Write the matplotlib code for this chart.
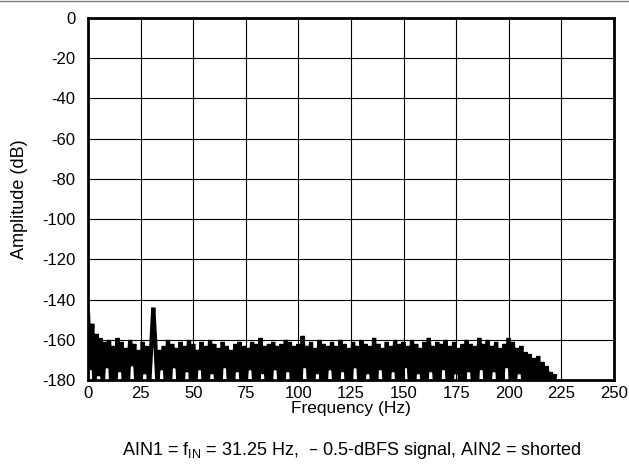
import matplotlib
matplotlib.use('Agg')
import matplotlib.pyplot as plt
import numpy as np

plt.rcParams['font.family'] = ['Liberation Sans', 'DejaVu Sans']
plt.rcParams['axes.unicode_minus'] = False

# spectrum: local peaks (even Hz) and dips (odd Hz)
peak_db = [
    -147, -152, -157, -159, -161, -160, -163, -159, -161, -164,
    -160, -162, -165, -161, -163, -164, -162, -165, -163, -160,
    -162, -164, -161, -163, -160, -162, -165, -161, -163, -160,
    -162, -164, -161, -163, -165, -162, -161, -163, -164, -161,
    -162, -159, -163, -162, -161, -163, -162, -160, -161, -163,
    -162, -158, -163, -161, -164, -160, -162, -163, -161, -163,
    -160, -162, -164, -161, -163, -160, -162, -163, -159, -162,
    -164, -161, -163, -160, -162, -161, -163, -160, -162, -164,
    -161, -159, -163, -161, -162, -160, -163, -161, -164, -162,
    -160, -162, -163, -159, -162, -160, -163, -161, -164, -162,
    -159, -161, -164, -163, -166, -167, -169, -168, -171, -173,
    -176, -178,
]
dip_db = [
    -175, -182, -178, -183, -174, -182, -184, -176, -182, -181,
    -173, -183, -182, -177, -184, -144, -182, -175, -183, -181,
    -174, -182, -183, -176, -184, -182, -175, -183, -181, -177,
    -184, -182, -174, -183, -181, -176, -184, -182, -175, -183,
    -182, -177, -184, -181, -175, -183, -182, -176, -184, -181,
    -183, -174, -182, -184, -177, -181, -183, -175, -182, -184,
    -176, -183, -181, -174, -182, -184, -177, -183, -181, -175,
    -182, -184, -176, -183, -181, -174, -182, -184, -177, -183,
    -181, -176, -184, -182, -175, -183, -181, -177, -184, -182,
    -176, -183, -181, -175, -184, -182, -176, -183, -181, -174,
    -183, -182, -177, -184, -181, -183, -180, -184, -182, -183,
    -184,
]

x_ticks = [0, 25, 50, 75, 100, 125, 150, 175, 200, 225, 250]
y_ticks = [0, -20, -40, -60, -80, -100, -120, -140, -160, -180]

amp = []
for i, p in enumerate(peak_db):
    amp.append(p)
    if i < len(dip_db):
        amp.append(dip_db[i])
freq = np.arange(len(amp))

fig = plt.figure(figsize=(6.29, 4.74), dpi=100)
ax = fig.add_axes([0.140, 0.198, 0.836, 0.764])

ax.plot(freq, amp, color='black', lw=3.0, solid_joinstyle='miter')

ax.set_xlim(0, 250)
ax.set_ylim(-180, 0)
ax.set_xticks(x_ticks)
ax.set_yticks(y_ticks)
ax.grid(True, color='black', lw=0.8)
ax.tick_params(length=0, labelsize=12)
ax.tick_params(axis='y', pad=9)
ax.tick_params(axis='x', pad=4)
for s in ax.spines.values():
    s.set_linewidth(2)

ax.set_xlabel('Frequency (Hz)', fontsize=12.5, labelpad=0)
ax.set_ylabel('Amplitude (dB)', fontsize=13, labelpad=10)

fig.text(0.559, 0.05, r'AIN1 = f$_{\mathregular{IN}}$ = 31.25 Hz,  – 0.5-dBFS signal, AIN2 = shorted',
         ha='center', va='center', fontsize=13)
fig.add_artist(plt.Line2D([0, 1], [0.998, 0.998], color='gray', lw=1))

fig.savefig('out.png', dpi=100)
